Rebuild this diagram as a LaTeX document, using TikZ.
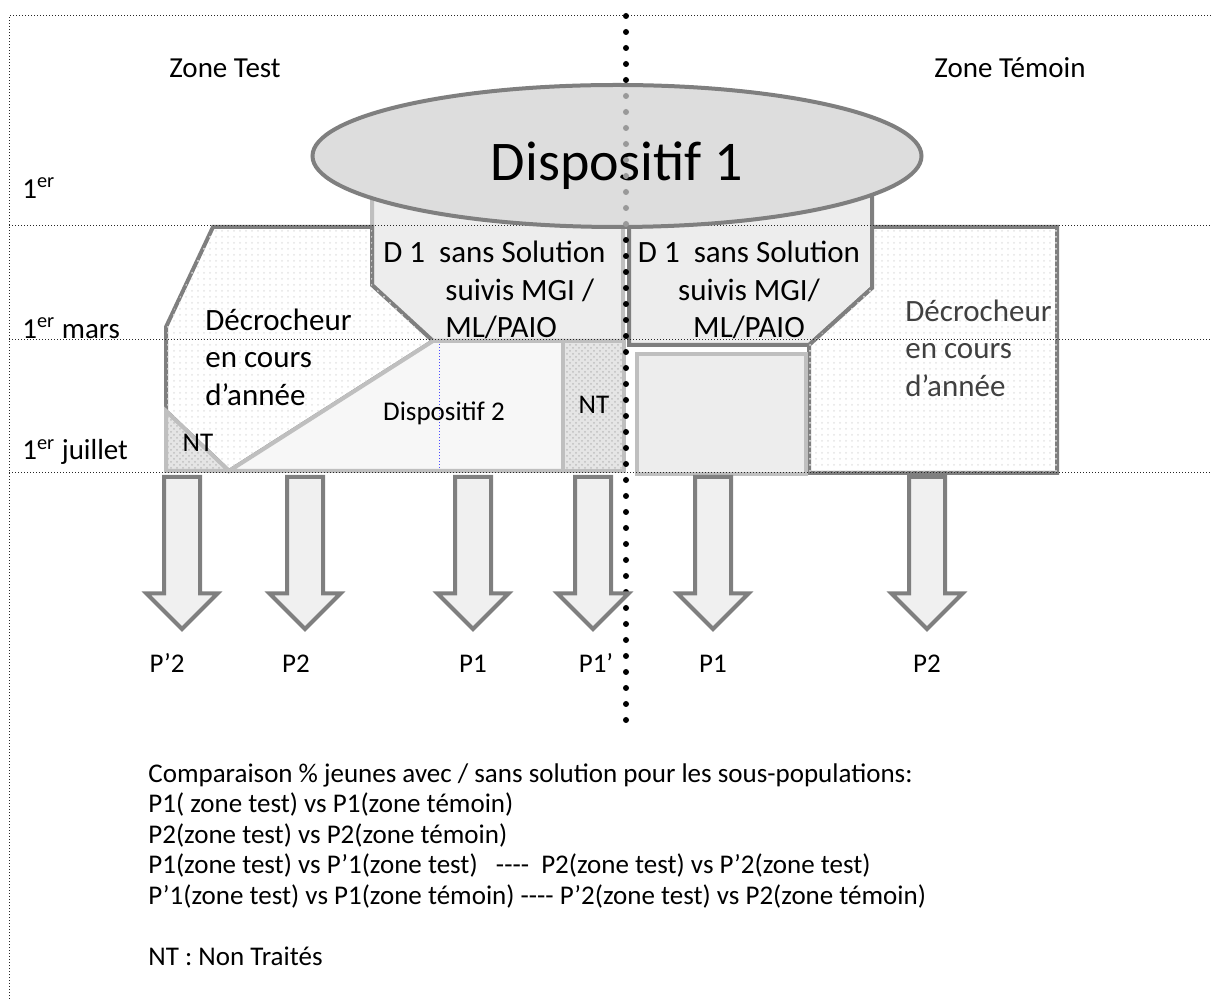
\documentclass[tikz,border=0pt]{standalone}
\usepackage{fontspec}
\setmainfont{Carlito}
\usetikzlibrary{positioning,shapes.geometric,shapes.arrows,patterns}
\definecolor{bord}{HTML}{7F7F7F}
\definecolor{bordclair}{HTML}{BFBFBF}
\definecolor{fondboite}{HTML}{EDEDED}
\definecolor{fondellipse}{HTML}{DDDDDD}
\begin{document}
\begin{tikzpicture}[x=0.5pt,y=-0.5pt,node distance=11pt,
grille/.style={
% thin dotted rules:
draw=black!85,line width=0.5pt,dash pattern=on 0.5pt off 1pt
},
boite/.style={
% the shapes:
draw=bord,line width=2pt,fill=fondboite
},
boiteclaire/.style={
draw=bordclair,line width=2pt,fill=fondboite
},
decro/.style={
draw=bord,line width=2pt,fill=white,
postaction={pattern=dots,pattern color=black!10}
},
dispo/.style={
draw=bordclair,line width=2pt,fill=black!3
},
nt/.style={
draw=bordclair,line width=2pt,fill=black!10,
postaction={pattern=crosshatch dots,pattern color=black!25}
},
fleche/.style={
single arrow,rotate=-90,anchor=tail,
draw=bord,line width=2pt,fill=black!6,
minimum height=76pt,minimum width=33.5pt,
single arrow head extend=8.75pt,inner xsep=0pt,inner ysep=8pt
},
texte/.style={inner sep=0pt,font=\fontsize{13.5}{15.25}\selectfont},
titre/.style={inner sep=0pt,font=\fontsize{14.5}{17}\selectfont},
etiquette/.style={inner sep=0pt,text height=9pt,text depth=0pt,font=\fontsize{13.5}{16}\selectfont},
texteboite/.style={inner sep=0pt,align=left,font=\fontsize{15.5}{18.75}\selectfont},
gros points/.style={draw=black,line width=3pt,line cap=round,dash pattern=on 0pt off 8pt}
]
\useasboundingbox (0,0) rectangle (1211,999);
\draw[grille] (9,999) -- (9,16) -- (1211,16);
% Zone test:
\draw[boiteclaire] (372,150) -- (372,285) -- (433,341) -- (623,341) -- (623,150) -- cycle;
\draw[decro] (213,227) -- (372,227) -- (372,285) -- (433,341) -- (229,471) -- (166,411) -- (166,327) -- cycle;
\draw[dispo] (433,341) -- (563,341) -- (563,471) -- (229,471) -- cycle;
\draw[nt] (166,411) -- (229,471) -- (166,471) -- cycle;
\draw[nt] (563,341) rectangle (624,471);
\draw[blue!70,densely dotted,line width=0.5pt] (439,344) -- (439,469);
% Zone temoin:
\draw[boite] (629,150) -- (629,345) -- (809,345) -- (872,288) -- (872,150) -- cycle;
\draw[decro] (872,227) -- (1057,227) -- (1057,473) -- (809,473) -- (809,345) -- (872,288) -- cycle;
\draw[boiteclaire] (637,354) rectangle (806,474);
\draw[grille] (9,226) -- (1211,226);
\draw[grille] (9,340) -- (1211,340);
\draw[grille] (9,473) -- (1211,473);
\draw[gros points] (626,16) -- (626,720);
\node (disp1) [ellipse,draw=bord,line width=2pt,fill=fondellipse,minimum width=304.5pt,minimum height=71pt,inner sep=0pt] at (617,156) {};
\node (disp1txt) [inner sep=0pt,font=\fontsize{28}{32}\selectfont] at (617,166) {Dispositif 1};
\draw[gros points,draw=black!40] (626,96) -- (626,224);
% labels:
\node (zonetest) [titre] at (225,68) {Zone Test};
\node (zonetemoin) [titre] at (1010,68) {Zone Témoin};
\node (date1) [titre,anchor=west] at (22,188) {1\textsuperscript{er}};
\node (date2) [titre,anchor=west] at (22,328) {1\textsuperscript{er} mars};
\node (date3) [titre,anchor=west] at (22,452) {1\textsuperscript{er} juillet};
\node (d1test) [texteboite,anchor=west] at (383,290) {D 1\ \ sans Solution\\\hspace*{31pt}suivis MGI /\\\hspace*{31pt}ML/PAIO};
\node (d1temoin) [texteboite,align=center] at (749,290) {D 1\ \ sans Solution\\suivis MGI/\\ML/PAIO};
\node (decrotest) [texteboite,anchor=west] at (205,357) {Décrocheur\\en cours\\d’année};
\node (decrotemoin) [texteboite,anchor=west,text=black!75] at (905,348) {Décrocheur\\en cours\\d’année};
\node (disp2) [inner sep=0pt,font=\fontsize{13.5}{16}\selectfont] at (444,413) {Dispositif 2};
\node (ntmilieu) [inner sep=0pt,font=\fontsize{13.5}{16}\selectfont] at (594,405) {NT};
\node (ntcoin) [inner sep=0pt,font=\fontsize{13.5}{16}\selectfont] at (198,443) {NT};
% arrows:
\node (f1) [fleche] at (182,475) {};
\node (f2) [fleche] at (305,475) {};
\node (f3) [fleche] at (473,475) {};
\node (f4) [fleche] at (593,475) {};
\node (f5) [fleche] at (713,475) {};
\node (f6) [fleche] at (927,475) {};
\node (pp2) [etiquette,below=of f1.tip,xshift=-7.5pt] {P’2};
\node (p2test) [etiquette,below=of f2.tip,xshift=-4.5pt] {P2};
\node (p1test) [etiquette,below=of f3.tip] {P1};
\node (pp1) [etiquette,below=of f4.tip,xshift=1.5pt] {P1’};
\node (p1temoin) [etiquette,below=of f5.tip] {P1};
\node (p2temoin) [etiquette,below=of f6.tip] {P2};
\node (comparaison) [texte,anchor=north west,align=left] at (148,763) {Comparaison \% jeunes avec / sans solution pour les sous-populations:\\
P1( zone test) vs P1(zone témoin)\\
P2(zone test) vs P2(zone témoin)\\
P1(zone test) vs P’1(zone test)\ \ \ {-}{-}{-}{-}\ \ P2(zone test) vs P’2(zone test)\\
P’1(zone test) vs P1(zone témoin) {-}{-}{-}{-} P’2(zone test) vs P2(zone témoin)\\[15.25pt]
NT : Non Traités};
\end{tikzpicture}
\end{document}
